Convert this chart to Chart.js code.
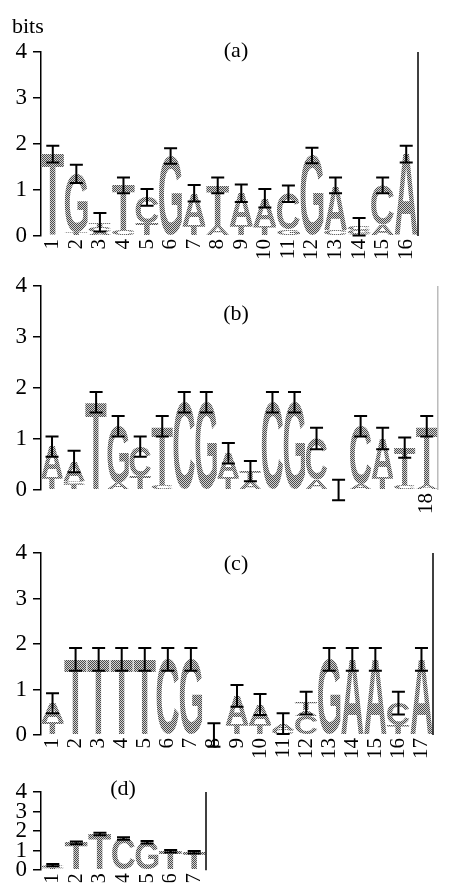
<!DOCTYPE html>
<html>
<head>
<meta charset="utf-8">
<script src="https://cdn.jsdelivr.net/npm/chart.js@4.4.0/dist/chart.umd.min.js"></script>
<style>
  body { margin: 0; background: #fff; width: 455px; height: 890px; overflow: hidden; position: relative; }
  canvas { position: absolute; left: 0; top: 0; }
</style>
</head>
<body>
<canvas id="logoA" width="455" height="890"></canvas>
<canvas id="logoB" width="455" height="890"></canvas>
<canvas id="logoC" width="455" height="890"></canvas>
<canvas id="logoD" width="455" height="890"></canvas>
<script>
// ---- panel (a) ----
var aPos       = ['1','2','3','4','5','6','7','8','9','10','11','12','13','14','15','16'];
var aLowLetter = ['', 'T', 'A', 'C', 'T', '', 'T', 'A', 'T', 'T', 'G', '', 'C', 'A', 'A', ''];
var aLowBits   = [0, 0.08, 0.08, 0.12, 0.28, 0, 0.25, 0.22, 0.23, 0.22, 0.14, 0, 0.14, 0.05, 0.24, 0];
var aMidLetter = ['', '', 'C', '', '', '', '', '', '', '', '', '', '', 'G', '', ''];
var aMidBits   = [0, 0, 0.1, 0, 0, 0, 0, 0, 0, 0, 0, 0, 0, 0.07, 0, 0];
var aTopLetter = ['T', 'G', 'T', 'T', 'C', 'G', 'A', 'T', 'A', 'A', 'C', 'G', 'A', 'C', 'C', 'A'];
var aTopBits   = [1.78, 1.27, 0.12, 0.98, 0.56, 1.74, 0.68, 0.88, 0.7, 0.6, 0.78, 1.75, 0.96, 0.08, 0.86, 1.78];
var aErr       = [0.18, 0.2, 0.2, 0.17, 0.18, 0.17, 0.18, 0.17, 0.19, 0.2, 0.18, 0.17, 0.17, 0.19, 0.17, 0.18];

// ---- panel (b) ----
var bPos       = ['1','2','3','4','5','6','7','8','9','10','11','12','13','14','15','16','17','18'];
var bLowLetter = ['T', 'T', '', 'A', 'T', 'C', '', '', 'T', 'A', '', '', 'A', '', 'A', 'T', 'C', 'A'];
var bLowBits   = [0.25, 0.12, 0, 0.14, 0.27, 0.1, 0, 0, 0.25, 0.17, 0, 0, 0.2, 0, 0.12, 0.25, 0.1, 0.1];
var bMidLetter = ['', 'C', '', '', '', '', '', '', '', '', '', '', '', '', '', '', '', ''];
var bMidBits   = [0, 0.06, 0, 0, 0, 0, 0, 0, 0, 0, 0, 0, 0, 0, 0, 0, 0, 0];
var bTopLetter = ['A', 'A', 'T', 'G', 'C', 'T', 'C', 'G', 'A', 'T', 'C', 'G', 'C', '', 'C', 'A', 'T', 'T'];
var bTopBits   = [0.6, 0.38, 1.72, 1.11, 0.58, 1.15, 1.72, 1.72, 0.47, 0.2, 1.72, 1.72, 0.81, 0, 1.13, 0.76, 0.73, 1.15];
var bErr       = [0.2, 0.21, 0.2, 0.2, 0.2, 0.2, 0.2, 0.2, 0.2, 0.2, 0.2, 0.2, 0.21, 0.2, 0.2, 0.21, 0.2, 0.2];

// ---- panel (c) ----
var cPos       = ['1','2','3','4','5','6','7','8','9','10','11','12','13','14','15','16','17'];
var cLowLetter = ['T', '', '', '', '', '', '', '', 'T', 'T', 'C', 'C', '', '', '', 'T', ''];
var cLowBits   = [0.28, 0, 0, 0, 0, 0, 0, 0, 0.24, 0.24, 0.12, 0.42, 0, 0, 0, 0.22, 0];
var cMidLetter = ['', '', '', '', '', '', '', '', '', '', '', 'A', '', '', '', '', ''];
var cMidBits   = [0, 0, 0, 0, 0, 0, 0, 0, 0, 0, 0, 0.12, 0, 0, 0, 0, 0];
var cTopLetter = ['A', 'T', 'T', 'T', 'T', 'C', 'G', '', 'A', 'A', 'A', 'T', 'G', 'A', 'A', 'C', 'A'];
var cTopBits   = [0.42, 1.66, 1.66, 1.66, 1.66, 1.66, 1.66, 0, 0.62, 0.43, 0.13, 0.16, 1.66, 1.66, 1.66, 0.48, 1.66];
var cErr       = [0.22, 0.25, 0.25, 0.25, 0.25, 0.25, 0.25, 0.26, 0.24, 0.23, 0.23, 0.25, 0.25, 0.25, 0.25, 0.25, 0.25];

// ---- panel (d) ----
var dPos       = ['1','2','3','4','5','6','7'];
var dLowLetter = ['T', '', '', '', '', 'C', 'C'];
var dLowBits   = [0.12, 0, 0, 0, 0, 0.04, 0.04];
var dMidLetter = ['', '', '', '', '', '', ''];
var dMidBits   = [0, 0, 0, 0, 0, 0, 0];
var dTopLetter = ['C', 'T', 'T', 'C', 'G', 'T', 'T'];
var dTopBits   = [0.14, 1.4, 1.85, 1.62, 1.43, 0.93, 0.88];
var dErr       = [0.06, 0.07, 0.06, 0.06, 0.06, 0.06, 0.06];

var yTicks = [0, 1, 2, 3, 4];

var serif = '"Liberation Serif", "Times New Roman", serif';

// grey dither used for the letters
var dither = (function () {
  var c = document.createElement('canvas');
  c.width = 2; c.height = 2;
  var g = c.getContext('2d');
  g.fillStyle = '#d2d2d2'; g.fillRect(0, 0, 2, 2);
  g.fillStyle = '#4c4c4c'; g.fillRect(0, 0, 1, 1); g.fillRect(1, 1, 1, 1);
  return c;
})();

var logoPlugin = {
  id: 'logo',
  afterDatasetsDraw: function (chart, args, opts) {
    var ctx = chart.ctx, area = chart.chartArea, ys = chart.scales.y;
    var pat = ctx.createPattern(dither, 'repeat');
    ctx.save();
    ctx.textAlign = 'left';
    ctx.textBaseline = 'alphabetic';
    ctx.font = 'bold 100px "Liberation Sans", Arial, sans-serif';
    chart.data.datasets.forEach(function (ds, d) {
      chart.getDatasetMeta(d).data.forEach(function (bar, i) {
        var p = bar.getProps(['x', 'y', 'base', 'width'], true);
        var h = p.base - p.y, L = ds.letters[i];
        if (!L || h < 0.5) return;
        var m = ctx.measureText(L);
        var gw = m.actualBoundingBoxLeft + m.actualBoundingBoxRight;
        var gh = m.actualBoundingBoxAscent + m.actualBoundingBoxDescent;
        ctx.save();
        ctx.translate(p.x - p.width / 2, p.y);
        ctx.scale(p.width / gw, h / gh);
        pat.setTransform(ctx.getTransform().inverse());
        ctx.fillStyle = pat;
        ctx.fillText(L, m.actualBoundingBoxLeft, m.actualBoundingBoxAscent);
        ctx.restore();
      });
    });

    // error bars on top of each stack
    var meta0 = chart.getDatasetMeta(0);
    ctx.strokeStyle = '#000';
    ctx.lineWidth = 2;
    opts.err.forEach(function (e, i) {
      var top = 0;
      chart.data.datasets.forEach(function (ds) { top += ds.data[i]; });
      var x = meta0.data[i].x;
      var y1 = ys.getPixelForValue(top + e), y2 = ys.getPixelForValue(top - e);
      var c = opts.cap;
      ctx.beginPath();
      ctx.moveTo(x, y1); ctx.lineTo(x, y2);
      ctx.moveTo(x - c, y1); ctx.lineTo(x + c, y1);
      ctx.moveTo(x - c, y2); ctx.lineTo(x + c, y2);
      ctx.stroke();
    });

    // right frame line
    ctx.strokeStyle = opts.frameColor;
    ctx.lineWidth = 1.5;
    ctx.beginPath();
    ctx.moveTo(area.right, area.top); ctx.lineTo(area.right, area.bottom);
    ctx.stroke();

    ctx.fillStyle = '#000';
    ctx.font = '22px ' + serif;
    ctx.textAlign = 'center';
    ctx.fillText(opts.title, opts.titleX, opts.titleY);
    if (opts.unit) {
      ctx.textAlign = 'left';
      ctx.fillText(opts.unit, 12, 33);
    }
    ctx.restore();
  }
};

function makeLogo(id, labels, low, lowBits, mid, midBits, top, topBits, err, box) {
  var clear = { backgroundColor: 'rgba(0,0,0,0)', borderWidth: 0, barPercentage: 1, categoryPercentage: 0.97 };
  return new Chart(document.getElementById(id), {
    type: 'bar',
    data: {
      labels: labels,
      datasets: [
        Object.assign({ data: lowBits, letters: low }, clear),
        Object.assign({ data: midBits, letters: mid }, clear),
        Object.assign({ data: topBits, letters: top }, clear)
      ]
    },
    options: {
      responsive: false,
      animation: false,
      devicePixelRatio: 1,
      events: [],
      layout: { padding: { left: 0, top: box.top, right: 455 - box.right, bottom: 890 - box.bottom - box.xh } },
      plugins: {
        colors: { enabled: false },
        legend: { display: false },
        tooltip: { enabled: false },
        logo: { err: err, cap: 6.5, frameColor: box.frame, title: box.title, titleX: box.tx, titleY: box.ty, unit: box.unit }
      },
      scales: {
        x: {
          stacked: true,
          afterFit: function (s) { s.height = box.xh; },
          grid: { display: false, drawTicks: false },
          border: { display: false },
          ticks: {
            autoSkip: false, maxRotation: 90, minRotation: 90, padding: 3, color: '#000',
            font: { family: serif, size: 21 },
            callback: function (v, i) { return box.onlyLast && i !== labels.length - 1 ? '' : labels[i]; }
          }
        },
        y: {
          stacked: true,
          min: 0, max: 4,
          afterFit: function (s) { s.width = 41; },
          afterBuildTicks: function (s) { s.ticks = yTicks.map(function (v) { return { value: v }; }); },
          grid: { drawOnChartArea: false, drawTicks: true, tickLength: 8, color: '#000', lineWidth: 1.5 },
          border: { color: '#000', width: 1.5 },
          ticks: { autoSkip: false, padding: 6, color: '#000', font: { family: serif, size: 23 } }
        }
      }
    },
    plugins: [logoPlugin]
  });
}

makeLogo('logoA', aPos, aLowLetter, aLowBits, aMidLetter, aMidBits, aTopLetter, aTopBits, aErr,
  { top: 52, bottom: 236, right: 418, xh: 34, frame: '#000', title: '(a)', tx: 236, ty: 57, unit: 'bits' });
makeLogo('logoB', bPos, bLowLetter, bLowBits, bMidLetter, bMidBits, bTopLetter, bTopBits, bErr,
  { top: 286, bottom: 490, right: 453, xh: 34, frame: '#bbb', title: '(b)', tx: 236, ty: 320, onlyLast: true });
makeLogo('logoC', cPos, cLowLetter, cLowBits, cMidLetter, cMidBits, cTopLetter, cTopBits, cErr,
  { top: 553, bottom: 735, right: 433, xh: 34, frame: '#000', title: '(c)', tx: 236, ty: 570 });
makeLogo('logoD', dPos, dLowLetter, dLowBits, dMidLetter, dMidBits, dTopLetter, dTopBits, dErr,
  { top: 792, bottom: 878, right: 206, xh: 12, frame: '#000', title: '(d)', tx: 123, ty: 795 });
</script>
</body>
</html>
